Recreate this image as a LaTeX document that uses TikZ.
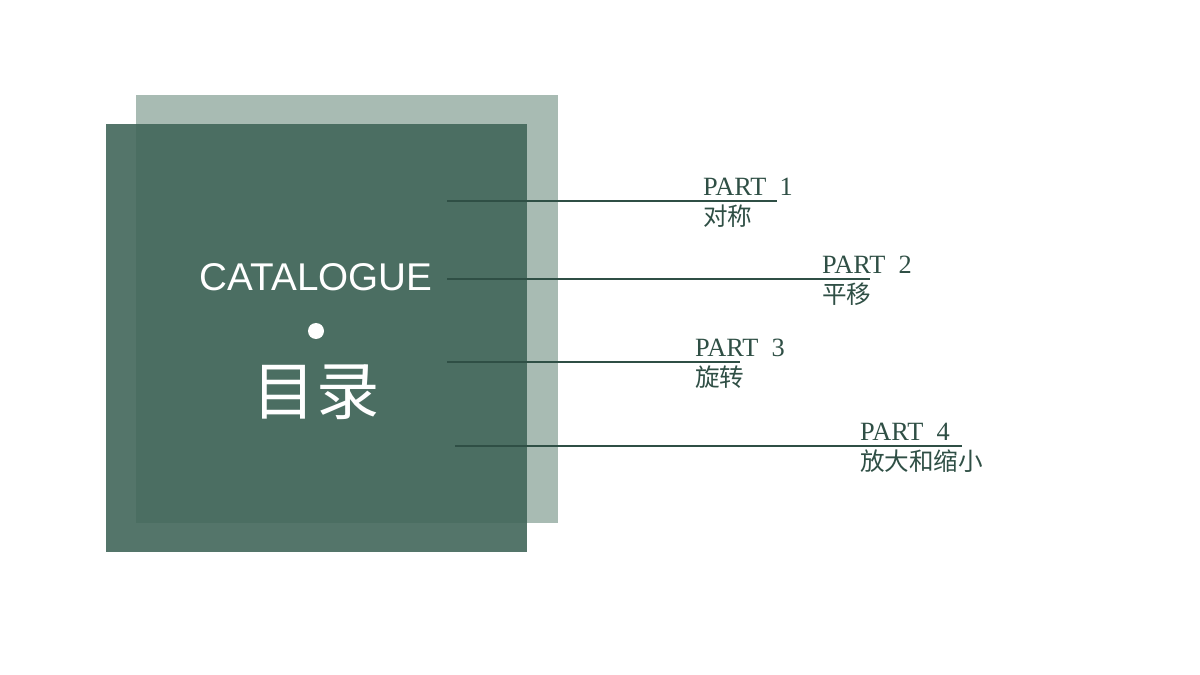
\documentclass[tikz,border=0pt]{standalone}
\usepackage{fontspec}
\setmainfont{Liberation Serif}
\setsansfont{Liberation Sans}
\newfontfamily\cjk{Noto Sans CJK SC}
\usetikzlibrary{positioning}
\definecolor{paleg}{HTML}{A8BBB3}
\definecolor{deepg}{HTML}{41665A}
\definecolor{inkg}{HTML}{2F4F45}
\tikzset{
  partline/.style={draw=inkg, line width=0.6pt},
  parttitle/.style={anchor=south west, inner sep=1pt, text=inkg, font=\fontsize{15}{17}\selectfont},
  partname/.style={anchor=north west, inner sep=1pt, text=inkg, font=\cjk\fontsize{14}{16}\selectfont},
}
\begin{document}
\begin{tikzpicture}[x=0.02cm, y=-0.02cm]
  \useasboundingbox (0,0) rectangle (1200,675);
  % Squares
  \fill[paleg] (136,95) rectangle (558,523);
  \fill[deepg, fill opacity=0.9] (106,124) rectangle (527,552);
  \node[text=white, font=\sffamily\fontsize{22}{24}\selectfont] (cat) at (316,277) {CATALOGUE};
  \fill[white] (316,331) circle (8);
  \node[text=white, font=\cjk\fontsize{36}{40}\selectfont] (mulu) at (316,392) {目录};

  % Parts
  \draw[partline] (447,201) -- (777,201);
  \node[parttitle] (p1) at (701,198) {PART\ \ 1};
  \node[partname] (n1) at (701,203) {对称};

  \draw[partline] (447,279) -- (870,279);
  \node[parttitle] (p2) at (820,276) {PART\ \ 2};
  \node[partname] (n2) at (820,281) {平移};

  \draw[partline] (447,362) -- (740,362);
  \node[parttitle] (p3) at (693,359) {PART\ \ 3};
  \node[partname] (n3) at (693,364) {旋转};

  \draw[partline] (455,446) -- (962,446);
  \node[parttitle] (p4) at (858,443) {PART\ \ 4};
  \node[partname] (n4) at (858,448) {放大和缩小};
\end{tikzpicture}
\end{document}
